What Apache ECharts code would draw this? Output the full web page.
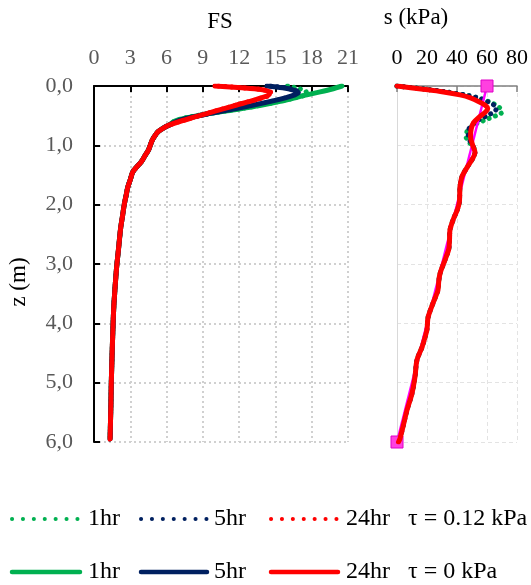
<!DOCTYPE html>
<html>
<head>
<meta charset="utf-8">
<script src="https://cdn.jsdelivr.net/npm/echarts@6/dist/echarts.min.js"></script>
<style>
html,body{margin:0;padding:0;background:#fff;}
#c{width:531px;height:585px;}
</style>
</head>
<body>
<div id="c"></div>
<script>
// ---- tick labels ----
var fsTicks = [0, 3, 6, 9, 12, 15, 18, 21];
var sTicks = [0, 20, 40, 60, 80];
var zTicks = ['0,0', '1,0', '2,0', '3,0', '4,0', '5,0', '6,0'];

// ---- FS profiles [FS, z] : upper part (differs per series) ----
var fsTop1hr0 = [[20.5,0],[19.7,0.05],[18.7,0.1],[17.6,0.15],[16.6,0.2],[15.4,0.26],[13.7,0.33],[11.6,0.4],[9.4,0.47],[7.6,0.54],[6.6,0.6]];
var fsTop5hr0 = [[14.3,0],[15.6,0.03],[16.5,0.07],[16.9,0.11],[16.6,0.15],[15.8,0.2],[14.6,0.26],[13.0,0.33],[11.2,0.4],[9.4,0.47],[7.8,0.54],[6.8,0.6]];
var fsTop24hr0 = [[10.0,0],[12.2,0.03],[13.8,0.06],[14.5,0.1],[14.5,0.14],[13.8,0.2],[12.9,0.26],[11.8,0.32],[10.6,0.39],[9.4,0.46],[8.2,0.53],[7.2,0.59]];
var fsTop1hr12 = [[16.0,0],[16.9,0.04],[17.5,0.09],[17.6,0.13],[17.2,0.17],[16.4,0.21],[15.3,0.26],[13.6,0.33],[11.5,0.4],[9.3,0.47],[7.5,0.54],[6.6,0.6]];
var fsTop5hr12 = [[14.6,0],[15.8,0.03],[16.6,0.07],[17.0,0.11],[16.7,0.15],[15.9,0.2],[14.7,0.26],[13.1,0.33],[11.2,0.4],[9.4,0.47],[7.8,0.54],[6.8,0.6]];
var fsTop24hr12 = [[10.3,0],[12.3,0.03],[13.9,0.06],[14.6,0.1],[14.6,0.14],[13.9,0.2],[12.9,0.26],[11.8,0.32],[10.6,0.39],[9.4,0.46],[8.2,0.53],[7.2,0.59]];
// common deeper part (all curves overlap)
var fsDeep = [[6.2,0.66],[5.8,0.7],[5.3,0.77],[5.0,0.85],[4.8,0.92],[4.65,1.0],[4.5,1.08],[4.2,1.18],[3.9,1.28],[3.55,1.36],[3.2,1.45],[3.0,1.58],[2.8,1.7],[2.65,1.85],[2.5,2.0],[2.35,2.2],[2.2,2.4],[2.05,2.7],[1.85,3.1],[1.65,3.67],[1.58,4.0],[1.5,4.5],[1.43,5.0],[1.4,5.35],[1.37,5.6],[1.33,5.95]];

// ---- suction profiles [s, z] ----
var sTop1hr = [[0,0],[18,0.05],[33,0.1],[45,0.15],[54,0.2],[61,0.26],[66,0.32],[69,0.38],[70,0.44],[66,0.5],[58,0.58],[51,0.66],[47,0.75],[46,0.85],[47.5,0.94],[50.5,1.0]];
var sTop5hr = [[0,0],[18,0.05],[33,0.1],[45,0.15],[54,0.2],[60,0.26],[64,0.31],[66.5,0.37],[65,0.43],[60,0.5],[54,0.58],[49.5,0.67],[47.5,0.76],[47.5,0.86],[49,0.94],[50.5,1.0]];
var sTop24hr = [[0,0],[16,0.05],[31,0.1],[42,0.15],[49,0.2],[55,0.27],[59,0.33],[60.5,0.38],[59,0.44],[55,0.52],[51,0.62],[49.5,0.72],[49,0.85],[50.5,1.0]];
var sDeep = [[52,1.12],[50.5,1.22],[47,1.36],[43.3,1.53],[42,1.7],[41.8,1.85],[41.5,1.97],[40,2.1],[37.5,2.25],[35.3,2.43],[35,2.6],[34.5,2.75],[32,2.93],[28.7,3.16],[27.8,3.3],[27.3,3.44],[24,3.66],[20.7,3.9],[20,4.1],[18.5,4.25],[16.7,4.4],[13.3,4.62],[12,4.9],[10,5.18],[6.7,5.46],[4,5.74],[2,5.94],[1,6.0]];
var sInitial = [[60,0],[0,6]];

var GREEN = '#00b050', NAVY = '#002060', RED = '#ff0000', MAG = '#ff00ff';
var FONT = 'Liberation Serif';

function curve(name, data, color, dotted, xi) {
  return {
    name: name, type: 'line', xAxisIndex: xi, yAxisIndex: xi,
    data: data, smooth: 0.3, showSymbol: false, symbol: 'none',
    lineStyle: dotted ? {color: color, width: 5, type: [0.1, 6.5], cap: 'round'}
                      : {color: color, width: 5, cap: 'round', join: 'round'},
    silent: true, animation: false, z: dotted ? 2 : 3
  };
}

var series = [
  curve('1hr τ=0.12', fsTop1hr12.concat(fsDeep), GREEN, true, 0),
  curve('5hr τ=0.12', fsTop5hr12.concat(fsDeep), NAVY, true, 0),
  curve('24hr τ=0.12', fsTop24hr12.concat(fsDeep), RED, true, 0),
  curve('1hr τ=0', fsTop1hr0.concat(fsDeep), GREEN, false, 0),
  curve('5hr τ=0', fsTop5hr0.concat(fsDeep), NAVY, false, 0),
  curve('24hr τ=0', fsTop24hr0.concat(fsDeep), RED, false, 0),
  curve('s 1hr', sTop1hr.concat(sDeep), GREEN, true, 1),
  curve('s 5hr', sTop5hr.concat(sDeep), NAVY, true, 1),
  {
    name: 's initial', type: 'line', xAxisIndex: 1, yAxisIndex: 1, data: sInitial,
    symbol: 'rect', symbolSize: 12, clip: false, animation: false, z: 4,
    lineStyle: {color: MAG, width: 2.5},
    itemStyle: {color: '#ff40e0', borderColor: '#e000c8', borderWidth: 1}
  },
  curve('s 24hr', sTop24hr.concat(sDeep), RED, false, 1)
];
series[9].z = 5;

function txt(x, y, s, size, extra) {
  var st = {text: s, font: size + 'px "' + FONT + '"', fill: '#000',
    verticalAlign: 'middle', textVerticalAlign: 'middle'};
  for (var k in (extra || {})) st[k] = extra[k];
  return {type: 'text', x: x, y: y, silent: true, style: st};
}

function legendRow(y, dotted, tauText) {
  var items = [];
  var cols = [[12, 80, GREEN, '1hr', 88], [141, 207, NAVY, '5hr', 214], [271, 338, RED, '24hr', 346]];
  cols.forEach(function (c) {
    items.push({type: 'line', silent: true,
      shape: {x1: c[0], y1: y, x2: c[1], y2: y},
      style: dotted ? {stroke: c[2], lineWidth: 4, lineDash: [0.1, 10.8], lineCap: 'round'}
                    : {stroke: c[2], lineWidth: 4.5, lineCap: 'round'}});
    items.push(txt(c[4], y, c[3], 24));
  });
  items.push(txt(408, y, tauText, 24));
  return items;
}

var titles = [
  txt(220, 22, 'FS', 23, {align: 'center', textAlign: 'center'}),
  txt(416, 18, 's (kPa)', 23, {align: 'center', textAlign: 'center'}),
  {type: 'text', x: 19, y: 282, rotation: Math.PI / 2, silent: true,
    style: {text: 'z (m)', font: '23px "' + FONT + '"', fill: '#000',
      align: 'center', textAlign: 'center', verticalAlign: 'middle', textVerticalAlign: 'middle'}}
];

var option = {
  backgroundColor: '#fff',
  animation: false,
  textStyle: {fontFamily: FONT},
  grid: [
    {left: 94, top: 86, width: 254, height: 356},
    {left: 397, top: 86, width: 121, height: 356}
  ],
  xAxis: [
    {
      type: 'value', gridIndex: 0, position: 'top', min: 0, max: 21, interval: 3,
      axisLine: {lineStyle: {color: '#000', width: 2}},
      axisTick: {inside: true, length: 6, lineStyle: {color: '#000', width: 2}},
      axisLabel: {fontFamily: FONT, fontSize: 22, color: '#595959', margin: 17,
        formatter: function (v) { return fsTicks.indexOf(v) >= 0 ? String(v) : ''; }},
      splitLine: {show: true, lineStyle: {color: '#d0d0d0', width: 2, type: [2, 3]}}
    },
    {
      type: 'value', gridIndex: 1, position: 'top', min: 0, max: 80, interval: 20,
      axisLine: {lineStyle: {color: '#808080', width: 1.5}},
      axisTick: {inside: true, length: 6, lineStyle: {color: '#808080', width: 1.5}},
      axisLabel: {fontFamily: FONT, fontSize: 22, color: '#000', margin: 17,
        formatter: function (v) { return sTicks.indexOf(v) >= 0 ? String(v) : ''; }},
      splitLine: {show: true, lineStyle: {color: '#e3e3e3', width: 1, type: [4, 3]}}
    }
  ],
  yAxis: [
    {
      type: 'value', gridIndex: 0, inverse: true, min: 0, max: 6, interval: 1,
      axisLine: {lineStyle: {color: '#000', width: 2}},
      axisTick: {inside: true, length: 6, lineStyle: {color: '#000', width: 2}},
      axisLabel: {fontFamily: FONT, fontSize: 22, color: '#595959', margin: 21,
        formatter: function (v) { return zTicks[Math.round(v)]; }},
      splitLine: {show: true, lineStyle: {color: '#d0d0d0', width: 2, type: [2, 3]}}
    },
    {
      type: 'value', gridIndex: 1, inverse: true, min: 0, max: 6, interval: 1,
      axisLine: {show: true, lineStyle: {color: '#d9d9d9', width: 1}},
      axisTick: {show: false},
      axisLabel: {show: false},
      splitLine: {show: true, lineStyle: {color: '#e3e3e3', width: 1, type: [4, 3]}}
    }
  ],
  graphic: titles.concat(legendRow(519, true, 'τ = 0.12 kPa')).concat(legendRow(572, false, 'τ = 0 kPa')),
  series: series
};

var chart = echarts.init(document.getElementById('c'), null, {renderer: 'canvas'});
chart.setOption(option);
</script>
</body>
</html>
